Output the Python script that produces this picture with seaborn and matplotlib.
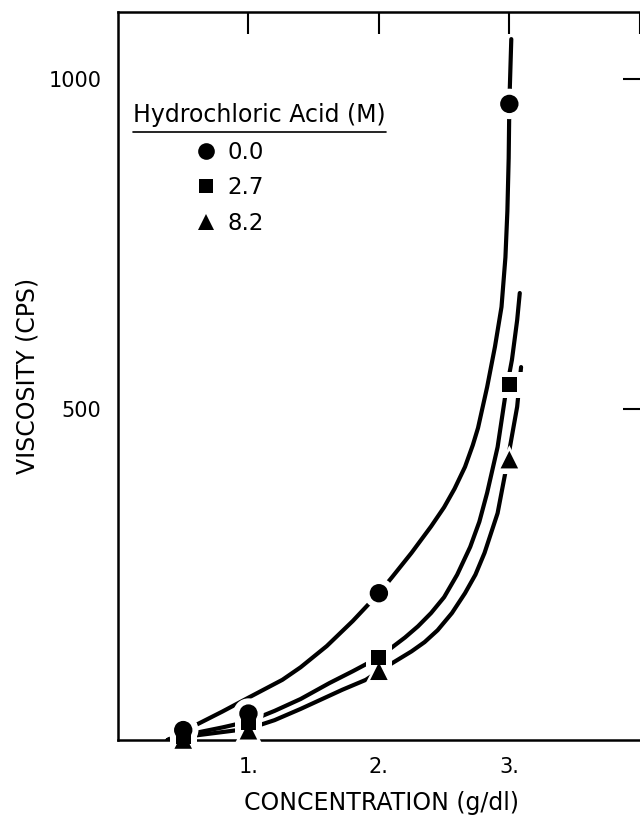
import numpy as np
import pandas as pd
import matplotlib
matplotlib.use("Agg")
import matplotlib.pyplot as plt
import seaborn as sns

# ---- data ----
series_labels = ["0.0", "2.7", "8.2"]
point_conc = [0.5, 1.0, 2.0, 3.0]
point_visc_00 = [15, 40, 222, 962]
point_visc_27 = [5, 27, 125, 537]
point_visc_82 = [0, 14, 104, 424]

curve_conc_00 = [0.38, 0.50, 0.60, 0.80, 1.00, 1.26, 1.40, 1.60, 1.80, 2.00, 2.10, 2.25,
                 2.40, 2.50, 2.58, 2.66, 2.72, 2.76, 2.83, 2.89, 2.94, 2.97, 2.985, 2.995,
                 3.00, 3.015]
curve_visc_00 = [0, 13, 23, 43, 64, 91, 110, 142, 180, 222, 246, 283,
                 323, 352, 380, 413, 446, 472, 534, 595, 655, 730, 800, 880,
                 962, 1060]
curve_conc_27 = [0.38, 0.50, 0.60, 0.80, 1.00, 1.20, 1.40, 1.62, 1.80, 2.00, 2.10, 2.20,
                 2.30, 2.40, 2.50, 2.60, 2.70, 2.77, 2.83, 2.91, 2.97, 3.02, 3.06, 3.08]
curve_visc_27 = [0, 6, 11, 19, 28, 44, 62, 86, 104, 125, 140, 155,
                 172, 192, 216, 250, 292, 330, 374, 443, 522, 575, 635, 676]
curve_conc_82 = [0.38, 0.50, 0.60, 0.80, 1.00, 1.20, 1.40, 1.72, 1.90, 2.00, 2.10, 2.25,
                 2.35, 2.45, 2.56, 2.66, 2.74, 2.81, 2.91, 2.97, 3.01, 3.06, 3.09]
curve_visc_82 = [0, 3, 7, 12, 17, 30, 47, 76, 91, 104, 116, 134,
                 148, 166, 192, 222, 250, 283, 343, 405, 449, 504, 564]

x_ticks = [1, 2, 3, 4]
x_ticklabels = ["1.", "2.", "3.", ""]
y_ticks = [500, 1000]
y_ticklabels = ["500", "1000"]

# ---- build tables ----
pts = pd.DataFrame({
    "conc": point_conc * 3,
    "visc": point_visc_00 + point_visc_27 + point_visc_82,
    "acid": [series_labels[0]] * 4 + [series_labels[1]] * 4 + [series_labels[2]] * 4,
})
curves = pd.DataFrame({
    "conc": curve_conc_00 + curve_conc_27 + curve_conc_82,
    "visc": curve_visc_00 + curve_visc_27 + curve_visc_82,
    "acid": [series_labels[0]] * len(curve_conc_00)
            + [series_labels[1]] * len(curve_conc_27)
            + [series_labels[2]] * len(curve_conc_82),
})

sns.set_theme(style="white")
plt.rcParams["font.family"] = ["DejaVu Sans"]

fig = plt.figure(figsize=(6.4, 8.15), dpi=100)
ax = fig.add_axes([118 / 640, 75 / 815, 527 / 640, 728 / 815])

sns.lineplot(data=curves, x="conc", y="visc", units="acid", estimator=None,
             sort=False, color="black", lw=3.0, ax=ax, legend=False,
             solid_capstyle="round")

marker_map = {"0.0": "o", "2.7": "s", "8.2": "^"}
# white halo layer that breaks the curves around each marker
sns.scatterplot(data=pts, x="conc", y="visc", style="acid", markers=marker_map,
                style_order=series_labels, color="white", s=400, linewidth=0,
                ax=ax, zorder=4, clip_on=False, legend=False)
halo_area = {"0.0": 480, "2.7": 370, "8.2": 430}
ax.collections[-1].set_sizes(pts["acid"].map(halo_area).to_numpy())

# black markers
sns.scatterplot(data=pts, x="conc", y="visc", style="acid", markers=marker_map,
                style_order=series_labels, color="black", s=170, linewidth=0,
                ax=ax, zorder=5, clip_on=False)
marker_area = {"0.0": 175, "2.7": 115, "8.2": 160}
ax.collections[-1].set_sizes(pts["acid"].map(marker_area).to_numpy())

ax.set_xlim(0, 4.04)
ax.set_ylim(0, 1101)
ax.set_xticks(x_ticks)
ax.set_xticklabels(x_ticklabels)
ax.set_yticks(y_ticks)
ax.set_yticklabels(y_ticklabels)
ax.tick_params(axis="both", direction="in", length=16, width=1.5, color="black",
               labelsize=15, labelcolor="black", top=True, right=True, pad=12)
for sp in ax.spines.values():
    sp.set_color("black")
    sp.set_linewidth(1.8)

ax.set_xlabel("CONCENTRATION (g/dl)", fontsize=17, labelpad=10, color="black")
ax.set_ylabel("VISCOSITY (CPS)", fontsize=17, labelpad=6, color="black")

# legend
ax.text(0.028, 0.858, "Hydrochloric Acid (M)", transform=ax.transAxes,
        fontsize=17, va="center", ha="left", color="black")
ax.plot([0.028, 0.508], [0.8345, 0.8345], transform=ax.transAxes, color="black", lw=1.2)
handles, labels = ax.get_legend_handles_labels()
for h, ms in zip(handles, [12, 10, 11.5]):
    h.set_markersize(ms)
    h.set_markeredgewidth(0)
leg = ax.legend(handles, labels, loc="upper left", bbox_to_anchor=(0.128, 0.836),
                frameon=False, fontsize=16.5, handlelength=1.0, handletextpad=0.45,
                labelspacing=0.56, borderaxespad=0)
for t in leg.get_texts():
    t.set_color("black")

fig.savefig("out.png", dpi=100)
